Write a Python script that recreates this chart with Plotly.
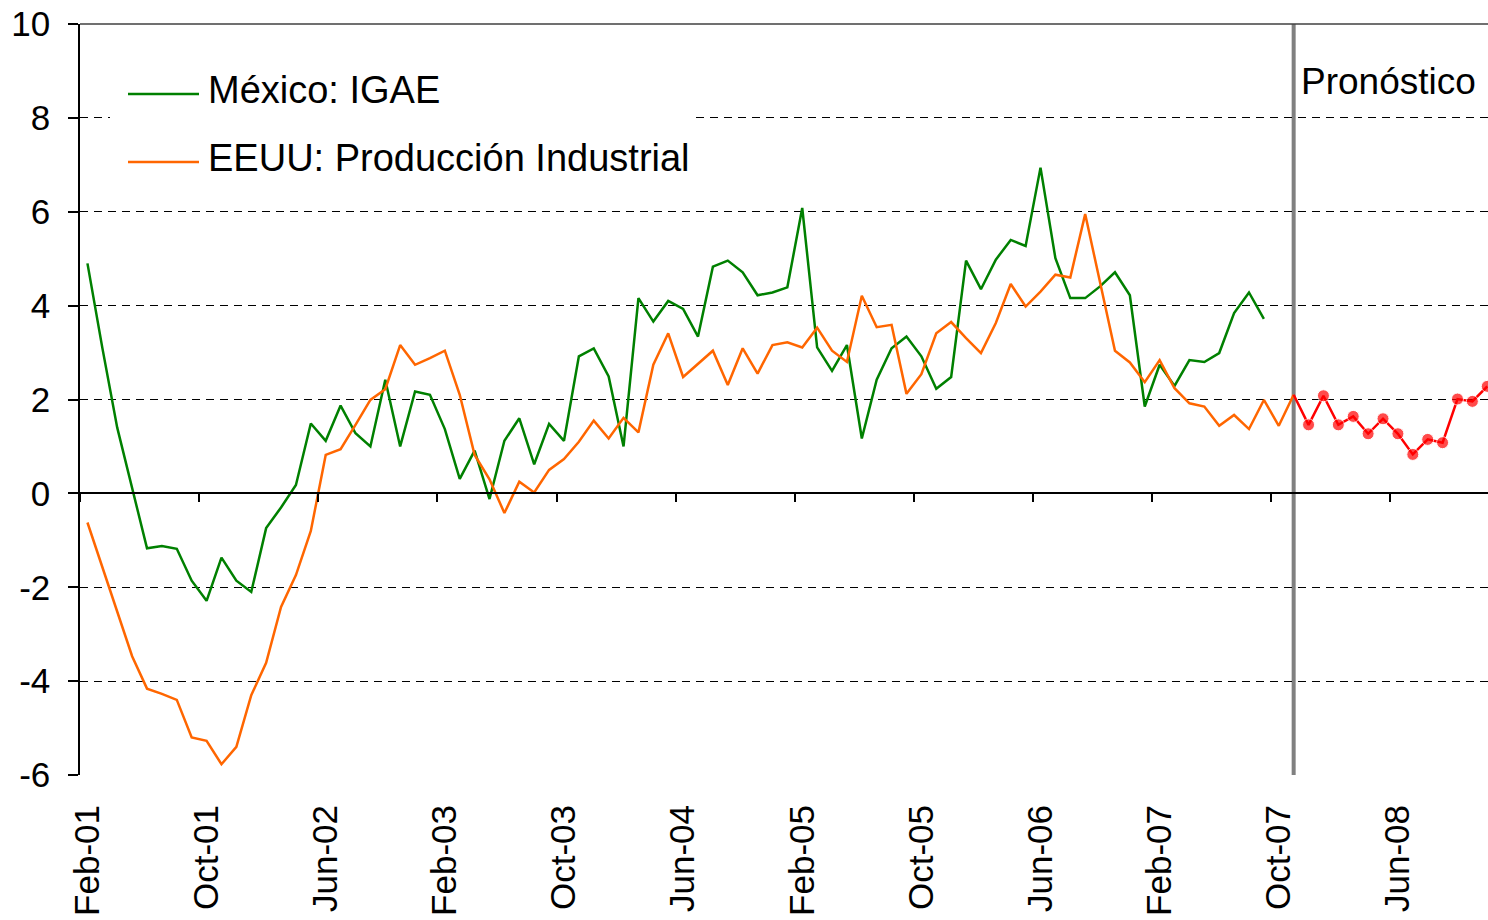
import pandas as pd
import plotly.graph_objects as go

# Month categories Feb-01 .. Dec-08
months = list(pd.period_range("2001-02", periods=95, freq="M").strftime("%b-%y"))

mexico_igae = [
    4.9, 3.1, 1.4, 0.1, -1.17, -1.12, -1.18, -1.86, -2.29, -1.37,
    -1.86, -2.10, -0.74, -0.30, 0.18, 1.49, 1.12, 1.87, 1.28, 1.0,
    2.42, 1.0, 2.17, 2.10, 1.37, 0.31, 0.91, -0.12, 1.12, 1.60,
    0.62, 1.48, 1.12, 2.92, 3.09, 2.49, 1.0, 4.16, 3.66, 4.10,
    3.93, 3.34, 4.83, 4.96, 4.71, 4.22, 4.28, 4.39, 6.08, 3.11,
    2.61, 3.16, 1.17, 2.42, 3.09, 3.34, 2.92, 2.23, 2.48, 4.96,
    4.35, 4.98, 5.40, 5.27, 6.94, 5.01, 4.16, 4.16, 4.41, 4.71,
    4.22, 1.85, 2.74, 2.29, 2.84, 2.80, 2.99, 3.84, 4.28, 3.72,
]

eeuu_prod_ind = [
    -0.62, -1.58, -2.52, -3.47, -4.16, -4.27, -4.40, -5.20, -5.27, -5.77,
    -5.40, -4.30, -3.61, -2.42, -1.74, -0.80, 0.82, 0.94, 1.46, 1.99,
    2.22, 3.16, 2.74, 2.88, 3.04, 2.10, 0.82, 0.30, -0.42, 0.25,
    0.02, 0.50, 0.73, 1.10, 1.55, 1.17, 1.61, 1.30, 2.74, 3.41,
    2.48, 2.75, 3.04, 2.31, 3.09, 2.55, 3.16, 3.22, 3.11, 3.53,
    3.04, 2.80, 4.21, 3.54, 3.59, 2.12, 2.54, 3.41, 3.65, 3.31,
    2.99, 3.63, 4.46, 3.98, 4.30, 4.66, 4.60, 5.95, 4.50, 3.04,
    2.79, 2.37, 2.84, 2.24, 1.92, 1.85, 1.44, 1.67, 1.37, 1.99,
    1.44, 2.10,
]

# Forecast (starts at the last observed US value)
pronostico = [2.10, 1.46, 2.08, 1.46, 1.64, 1.27, 1.59, 1.27, 0.83, 1.15,
              1.08, 2.01, 1.96, 2.28]

forecast_start = len(eeuu_prod_ind) - 1
tick_step = 8
tick_idx = list(range(0, len(months), tick_step))
tick_labels = [months[i] for i in tick_idx]
y_ticks = list(range(-6, 11, 2))
y_tick_text = [str(v) for v in y_ticks]

FONT = "Liberation Sans, Arial, sans-serif"
GREEN = "#008000"
ORANGE = "#FF6600"
RED = "#FF0000"

x_mx = list(range(len(mexico_igae)))
x_us = list(range(len(eeuu_prod_ind)))
x_fc = list(range(forecast_start, forecast_start + len(pronostico)))

fig = go.Figure()
fig.add_trace(go.Scatter(x=x_mx, y=mexico_igae, mode="lines",
                         line=dict(color=GREEN, width=2.5), name="México: IGAE",
                         showlegend=False))
fig.add_trace(go.Scatter(x=x_us, y=eeuu_prod_ind, mode="lines",
                         line=dict(color=ORANGE, width=2.5),
                         name="EEUU: Producción Industrial", showlegend=False))
fig.add_trace(go.Scatter(x=x_fc, y=pronostico, mode="lines+markers",
                         line=dict(color=RED, width=2.5),
                         marker=dict(color=RED, size=[0] + [12] * (len(pronostico) - 1)),
                         name="Pronóstico", showlegend=False,
                         xaxis="x2", cliponaxis=True))

W, H = 1488, 920
ml, mr, mt, mb = 80, 0, 24, 145
pw, ph = W - ml - mr, H - mt - mb


def px_x(p):
    return (p - ml) / pw


def px_y(p):
    return 1 - (p - mt) / ph


ymin, ymax = -6, 10
zero_pos = (0 - ymin) / (ymax - ymin)
xrange = [-0.5, 94.05]

fig.update_layout(
    width=W, height=H, autosize=False,
    margin=dict(l=ml, r=mr, t=mt, b=mb, pad=0, autoexpand=False),
    paper_bgcolor="white", plot_bgcolor="white",
    font=dict(family=FONT, color="black"),
    showlegend=False,
    xaxis=dict(
        range=xrange, tickmode="array", tickvals=tick_idx, ticktext=tick_labels,
        tickangle=-90, tickfont=dict(size=35, family=FONT), ticks="",
        ticklabelstandoff=22, showgrid=False, zeroline=False, showline=False,
        automargin=False,
    ),
    xaxis2=dict(
        overlaying="x", matches="x", anchor="free", position=zero_pos,
        range=xrange, tickmode="array",
        tickvals=[i - 0.5 for i in tick_idx], showticklabels=False,
        ticks="outside", ticklen=8, tickwidth=1.5, tickcolor="black",
        showline=True, linecolor="black", linewidth=1.5,
        showgrid=False, zeroline=False, automargin=False,
    ),
    yaxis=dict(
        range=[ymin, ymax], tickmode="array", tickvals=y_ticks, ticktext=y_tick_text,
        tickfont=dict(size=35, family=FONT), ticks="outside", ticklen=10,
        tickcolor="black", tickwidth=1.5, ticklabelstandoff=11,
        showline=True, linecolor="black", linewidth=1.5,
        showgrid=True, gridcolor="black", gridwidth=1, griddash="8px,6px",
        zeroline=True, zerolinecolor="black", zerolinewidth=1.5,
        automargin=False,
    ),
)

shapes = [
    # legend background covering the gridline
    dict(type="rect", xref="paper", yref="paper", x0=px_x(110), x1=px_x(695),
         y0=px_y(185), y1=px_y(58), fillcolor="white", line=dict(width=0),
         layer="above"),
    # forecast separator
    dict(type="line", xref="x", yref="paper", x0=forecast_start, x1=forecast_start,
         y0=0, y1=1, line=dict(color="#808080", width=4), layer="between"),
    # top border
    dict(type="line", xref="paper", yref="paper", x0=0, x1=1, y0=1, y1=1,
         line=dict(color="#404040", width=1.5)),
    # legend samples
    dict(type="line", xref="paper", yref="paper", x0=px_x(128), x1=px_x(199),
         y0=px_y(94), y1=px_y(94), line=dict(color=GREEN, width=2.5)),
    dict(type="line", xref="paper", yref="paper", x0=px_x(128), x1=px_x(199),
         y0=px_y(162), y1=px_y(162), line=dict(color=ORANGE, width=2.5)),
]
fig.update_layout(shapes=shapes)

fig.add_annotation(x=px_x(206), y=px_y(90), xref="paper", yref="paper",
                   text="México: IGAE", showarrow=False, xanchor="left",
                   yanchor="middle", font=dict(size=38, family=FONT, color="black"))
fig.add_annotation(x=px_x(206), y=px_y(158), xref="paper", yref="paper",
                   text="EEUU: Producción Industrial", showarrow=False,
                   xanchor="left", yanchor="middle",
                   font=dict(size=38, family=FONT, color="black"))
fig.add_annotation(x=forecast_start, y=px_y(81), xref="x", yref="paper",
                   text="Pronóstico", showarrow=False, xanchor="left", xshift=5,
                   yanchor="middle", font=dict(size=37, family=FONT, color="black"))

fig.write_html(
    "out.html",
    config={"displayModeBar": False},
    post_script="document.body.style.margin='0';document.body.style.overflow='hidden';",
)
